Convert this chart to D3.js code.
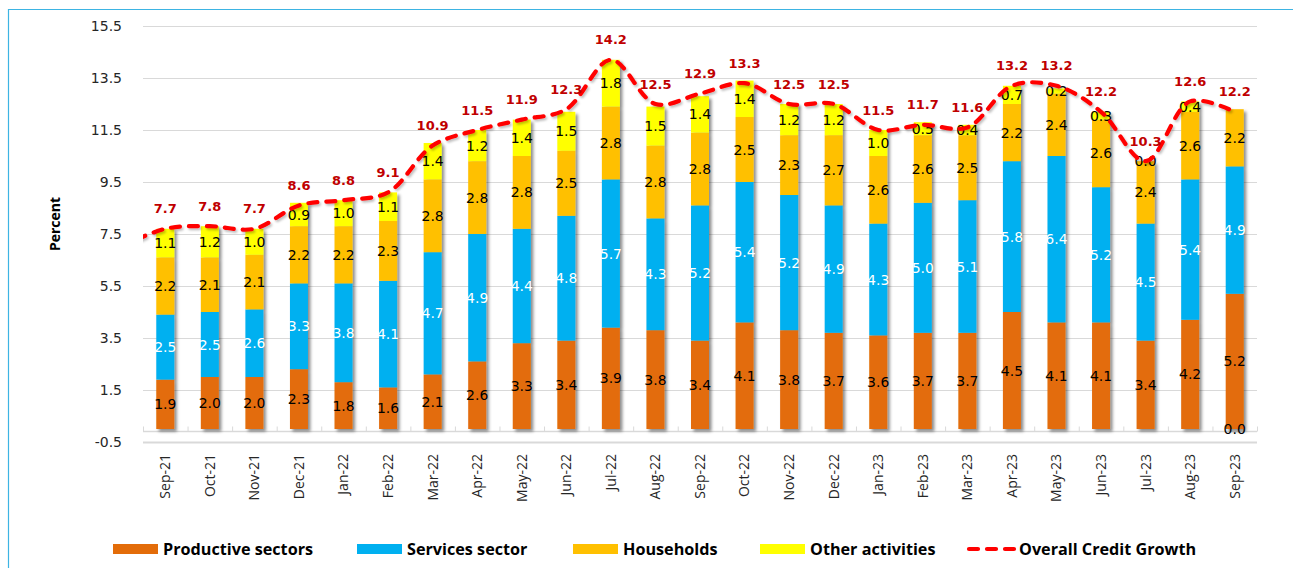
<!DOCTYPE html>
<html>
<head>
<meta charset="utf-8">
<script src="https://cdn.jsdelivr.net/npm/d3@7"></script>
<style>
  html, body { margin: 0; padding: 0; background: #fff; }
  svg { display: block; }
</style>
</head>
<body>
<svg id="chart" width="1293" height="568"></svg>
<script>
// ---------------- DATA ----------------
const months = ["Sep-21","Oct-21","Nov-21","Dec-21","Jan-22","Feb-22","Mar-22","Apr-22","May-22","Jun-22",
  "Jul-22","Aug-22","Sep-22","Oct-22","Nov-22","Dec-22","Jan-23","Feb-23","Mar-23","Apr-23","May-23",
  "Jun-23","Jul-23","Aug-23","Sep-23"];
const productive = [1.9,2.0,2.0,2.3,1.8,1.6,2.1,2.6,3.3,3.4,3.9,3.8,3.4,4.1,3.8,3.7,3.6,3.7,3.7,4.5,4.1,4.1,3.4,4.2,5.2];
const services   = [2.5,2.5,2.6,3.3,3.8,4.1,4.7,4.9,4.4,4.8,5.7,4.3,5.2,5.4,5.2,4.9,4.3,5.0,5.1,5.8,6.4,5.2,4.5,5.4,4.9];
const households = [2.2,2.1,2.1,2.2,2.2,2.3,2.8,2.8,2.8,2.5,2.8,2.8,2.8,2.5,2.3,2.7,2.6,2.6,2.5,2.2,2.4,2.6,2.4,2.6,2.2];
const other      = [1.1,1.2,1.0,0.9,1.0,1.1,1.4,1.2,1.4,1.5,1.8,1.5,1.4,1.4,1.2,1.2,1.0,0.5,0.4,0.7,0.2,0.3,0.0,0.4,null];
const overall    = [7.7,7.8,7.7,8.6,8.8,9.1,10.9,11.5,11.9,12.3,14.2,12.5,12.9,13.3,12.5,12.5,11.5,11.7,11.6,13.2,13.2,12.2,10.3,12.6,12.2];
// preceding month (outside the visible axis), only seen as the line entering from the left edge
const priorMonth = "Aug-21";
const priorOverall = 7.0;
const yTicks = [-0.5,1.5,3.5,5.5,7.5,9.5,11.5,13.5,15.5];
const yTickLabels = ["-0.5","1.5","3.5","5.5","7.5","9.5","11.5","13.5","15.5"];
const seriesNames = ["Productive sectors","Services sector","Households","Other activities"];
const lineName = "Overall Credit Growth";
const yTitle = "Percent";

// ---------------- STYLE ----------------
const colors = ["#E36C09","#00B0F0","#FFC000","#FFFF00"];
const labelColors = ["#000","#fff","#000","#000"];
const lineColor = "#FF0000";
const lineLabelColor = "#C00000";

const svg = d3.select("#chart");
const plot = {left:143, right:1257, top:26, bottom:442};

const x = d3.scaleBand().domain(months).range([plot.left, plot.right]).paddingInner(0.596).paddingOuter(0.298);
const y = d3.scaleLinear().domain([-0.5, 15.5]).range([plot.bottom, plot.top]);
const step = x.step();
const cx = m => x(m) + x.bandwidth()/2;

// defs
const defs = svg.append("defs");
const f = defs.append("filter").attr("id","shadow").attr("x","-50%").attr("y","-10%").attr("width","200%").attr("height","130%");
f.append("feDropShadow").attr("dx",2.5).attr("dy",2.5).attr("stdDeviation",1.6).attr("flood-color","#000").attr("flood-opacity",0.45);
const f2 = defs.append("filter").attr("id","lshadow").attr("x","-10%").attr("y","-20%").attr("width","120%").attr("height","140%");
f2.append("feDropShadow").attr("dx",1.5).attr("dy",2).attr("stdDeviation",1.2).attr("flood-color","#000").attr("flood-opacity",0.25);
defs.append("clipPath").attr("id","plotclip").append("rect")
  .attr("x",plot.left).attr("y",0).attr("width",plot.right-plot.left).attr("height",plot.bottom);

// outer border (light blue)
svg.append("line").attr("x1",8.5).attr("x2",8.5).attr("y1",9).attr("y2",568).attr("stroke","#3DB4E3").attr("stroke-width",1.2);
svg.append("line").attr("x1",8).attr("x2",1293).attr("y1",9.5).attr("y2",9.5).attr("stroke","#3DB4E3").attr("stroke-width",1.2);

// gridlines
svg.append("g").selectAll("line").data(yTicks).join("line")
  .attr("x1",plot.left).attr("x2",plot.right)
  .attr("y1",d=>Math.round(y(d))+0.5).attr("y2",d=>Math.round(y(d))+0.5)
  .attr("stroke","#D9D9D9").attr("stroke-width",d=>d===-0.5?2:1);

// y axis labels
const yAxis = d3.axisLeft(y).tickValues(yTicks).tickSize(0).tickPadding(21)
  .tickFormat((d,i)=>yTickLabels[i]);
const gy = svg.append("g").attr("transform",`translate(${plot.left},0)`).call(yAxis);
gy.select(".domain").remove();
gy.selectAll("text").attr("font-family","DejaVu Sans").attr("font-size",14).attr("fill","#262626");

// y title
svg.append("text").attr("transform","translate(60,224) rotate(-90)").attr("text-anchor","middle")
  .attr("font-family","Open Sans").attr("font-weight","bold").attr("font-size",14).attr("fill","#000").text(yTitle);

// category axis line with boundary ticks
const axisY = y(0) + 2.5;
svg.append("line").attr("x1",plot.left).attr("x2",plot.right).attr("y1",axisY).attr("y2",axisY)
  .attr("stroke","#D9D9D9").attr("stroke-width",1.5);
svg.append("g").selectAll("line").data(d3.range(months.length+1)).join("line")
  .attr("x1",i=>plot.left + i*step + 0.5).attr("x2",i=>plot.left + i*step + 0.5)
  .attr("y1",axisY).attr("y2",axisY-5).attr("stroke","#D9D9D9").attr("stroke-width",1);

// x labels
const xAxis = d3.axisBottom(x).tickSize(0);
const gx = svg.append("g").attr("transform",`translate(0,${y(0)})`).call(xAxis);
gx.select(".domain").remove();
gx.selectAll("text").attr("transform","rotate(-90)").attr("x",-25).attr("y",0).attr("dy","0.35em")
  .attr("text-anchor","end").attr("font-family","Open Sans").attr("font-size",14).attr("fill","#262626");

// stacked data
const rows = months.map((m,i)=>({month:m, vals:[productive[i],services[i],households[i],other[i]]}));
const barsG = svg.append("g");
rows.forEach(r=>{
  const g = barsG.append("g").attr("filter","url(#shadow)");
  let acc = 0;
  r.vals.forEach((v,k)=>{
    if (v == null) return;
    const y0 = y(acc), y1 = y(acc+v);
    g.append("rect").attr("x",x(r.month)).attr("width",x.bandwidth())
      .attr("y",y1).attr("height",Math.max(0,y0-y1)).attr("fill",colors[k]);
    acc += v;
  });
});

// segment labels
const labG = svg.append("g").attr("font-family","DejaVu Sans").attr("font-size",14).attr("text-anchor","middle");
rows.forEach(r=>{
  let acc = 0;
  r.vals.forEach((v,k)=>{
    let yc;
    if (v == null) { yc = y(0); }
    else { yc = y(acc + v/2); acc += v; }
    labG.append("text").attr("x",cx(r.month)).attr("y",yc).attr("dy","0.36em")
      .attr("fill",labelColors[k]).text((v==null?0:v).toFixed(1));
  });
});

// overall line
const linePts = [{x: x(months[0]) + x.bandwidth()/2 - step, v: priorOverall}]
  .concat(months.map((m,i)=>({x: cx(m), v: overall[i]})));
const line = d3.line().x(d=>d.x).y(d=>y(d.v)).curve(d3.curveCatmullRom.alpha(0.5));
svg.append("g").attr("clip-path","url(#plotclip)").append("path")
  .datum(linePts).attr("d",line).attr("fill","none").attr("stroke",lineColor)
  .attr("stroke-width",4.2).attr("stroke-dasharray","9,9").attr("stroke-linecap","round")
  .attr("filter","url(#lshadow)");

// overall labels
svg.append("g").selectAll("text").data(months).join("text")
  .attr("x",m=>cx(m)).attr("y",(m,i)=>y(overall[i]) - 20).attr("dy","0.36em")
  .attr("text-anchor","middle").attr("font-family","DejaVu Sans").attr("font-weight","bold")
  .attr("font-size",13).attr("fill",lineLabelColor).text((m,i)=>overall[i].toFixed(1));

// legend
const legY = 549;
const legX = [113, 357, 573, 760];
const leg = svg.append("g");
seriesNames.forEach((n,k)=>{
  leg.append("rect").attr("x",legX[k]).attr("y",legY-5).attr("width",45).attr("height",10).attr("fill",colors[k]);
  leg.append("text").attr("x",legX[k]+50).attr("y",legY).attr("dy","0.35em")
    .attr("font-family","Open Sans").attr("font-weight","bold").attr("font-size",16.2).attr("fill","#000").text(n);
});
leg.append("line").attr("x1",969).attr("x2",1014).attr("y1",legY).attr("y2",legY)
  .attr("stroke",lineColor).attr("stroke-width",4.2).attr("stroke-dasharray","9,9").attr("stroke-linecap","round");
leg.append("text").attr("x",1019).attr("y",legY).attr("dy","0.35em")
  .attr("font-family","Open Sans").attr("font-weight","bold").attr("font-size",16.2).attr("fill","#000").text(lineName);
</script>
</body>
</html>
